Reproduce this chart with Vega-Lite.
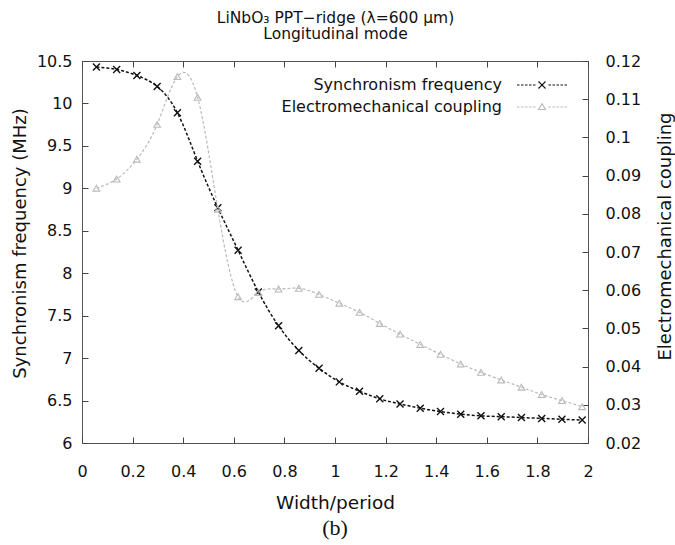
{
  "$schema": "https://vega.github.io/schema/vega-lite/v6.json",
  "width": 506,
  "height": 382,
  "autosize": "none",
  "padding": {"left": 82, "top": 61, "right": 87, "bottom": 102},
  "title": {"text": "(b)", "orient": "bottom", "frame": "group", "offset": 6, "font": "Liberation Serif", "fontSize": 22, "fontWeight": "normal", "color": "#111", "anchor": "middle"},
  "config": {
    "view": {"stroke": "#555", "strokeWidth": 1},
    "font": "DejaVu Sans",
    "axis": {
      "grid": false, "domain": false, "tickSize": 6, "offset": -6, "tickColor": "#444", "tickWidth": 1,
      "labelFont": "DejaVu Sans", "labelFontSize": 16, "labelColor": "#111",
      "titleFont": "DejaVu Sans", "titleFontSize": 18, "titleFontWeight": "normal", "titleColor": "#111"
    },
    "legend": {
      "orient": "none", "legendX": 452, "legendY": 16, "title": null,
      "symbolType": "stroke", "symbolSize": 100, "symbolStrokeWidth": 1.2,
      "labelAlign": "right", "labelOffset": -48, "labelFontSize": 16, "labelFont": "DejaVu Sans", "labelColor": "#111",
      "rowPadding": 6, "padding": 0, "labelLimit": 400
    }
  },
  "data": {"values": [
    {"w": 0.057, "freq": 10.43, "coup": 0.0867},
    {"w": 0.137, "freq": 10.40, "coup": 0.0891},
    {"w": 0.217, "freq": 10.33, "coup": 0.0943},
    {"w": 0.297, "freq": 10.20, "coup": 0.1034},
    {"w": 0.377, "freq": 9.89, "coup": 0.1159},
    {"w": 0.457, "freq": 9.32, "coup": 0.1105},
    {"w": 0.537, "freq": 8.77, "coup": 0.0812},
    {"w": 0.617, "freq": 8.27, "coup": 0.0583},
    {"w": 0.697, "freq": 7.78, "coup": 0.0594},
    {"w": 0.777, "freq": 7.38, "coup": 0.0603},
    {"w": 0.857, "freq": 7.09, "coup": 0.0605},
    {"w": 0.937, "freq": 6.88, "coup": 0.0589},
    {"w": 1.017, "freq": 6.72, "coup": 0.0566},
    {"w": 1.097, "freq": 6.61, "coup": 0.0542},
    {"w": 1.177, "freq": 6.52, "coup": 0.0513},
    {"w": 1.257, "freq": 6.46, "coup": 0.0485},
    {"w": 1.337, "freq": 6.41, "coup": 0.0458},
    {"w": 1.417, "freq": 6.37, "coup": 0.0432},
    {"w": 1.497, "freq": 6.34, "coup": 0.0407},
    {"w": 1.577, "freq": 6.32, "coup": 0.0385},
    {"w": 1.657, "freq": 6.31, "coup": 0.0365},
    {"w": 1.737, "freq": 6.30, "coup": 0.0346},
    {"w": 1.817, "freq": 6.29, "coup": 0.0327},
    {"w": 1.897, "freq": 6.28, "coup": 0.0311},
    {"w": 1.977, "freq": 6.27, "coup": 0.0295}
  ]},
  "layer": [
    {
      "mark": {"type": "line", "interpolate": "natural", "strokeDash": [3, 2], "strokeWidth": 1.5},
      "encoding": {
        "x": {"field": "w", "type": "quantitative", "scale": {"domain": [0, 2], "nice": false},
              "axis": {"orient": "bottom", "values": [0, 0.2, 0.4, 0.6, 0.8, 1, 1.2, 1.4, 1.6, 1.8, 2], "format": "~g", "labelPadding": 20, "labelFlush": false,
                       "title": "Width/period", "titleX": 253, "titleY": 65, "titleBaseline": "middle", "titleAlign": "center", "titleFontSize": 18.5}},
        "y": {"field": "freq", "type": "quantitative", "scale": {"domain": [6, 10.5], "nice": false, "zero": false},
              "axis": {"orient": "left", "values": [6, 6.5, 7, 7.5, 8, 8.5, 9, 9.5, 10, 10.5], "format": "~g", "labelPadding": 10, "labelFlush": false,
                       "title": "Synchronism frequency (MHz)", "titleX": -68, "titleY": 182, "titleBaseline": "middle", "titleAlign": "center", "titleAngle": 270}},
        "color": {"datum": "Synchronism frequency",
                  "scale": {"domain": ["Synchronism frequency", "Electromechanical coupling"], "range": ["#111111", "#bababa"]},
                  "legend": {
                    "encode": {"symbols": {"update": {
                      "shape": {"signal": "datum.value === 'Synchronism frequency' ? 'M-5,0H-4.5M-4.2,0H-3.7M-3.4,0H-2.9M-2.6,0H-2.1M-1.8,0H-1.3M-0.7,-0.7L0.7,0.7M-0.7,0.7L0.7,-0.7M1.3,0H1.8M2.1,0H2.6M2.9,0H3.4M3.7,0H4.2M4.5,0H5' : 'M-5,0H-4.5M-4.2,0H-3.7M-3.4,0H-2.9M-2.6,0H-2.1M-1.8,0H-1.3M0,-0.65L0.7,0.5L-0.7,0.5ZM1.3,0H1.8M2.1,0H2.6M2.9,0H3.4M3.7,0H4.2M4.5,0H5'"},
                      "strokeDash": {"value": [1, 0]}
                    }}}
                  }}
      }
    },
    {
      "mark": {"type": "point", "shape": "M-1,-1L1,1M-1,1L1,-1", "size": 49, "filled": false, "stroke": "#111111", "strokeWidth": 1.4, "opacity": 1},
      "encoding": {
        "x": {"field": "w", "type": "quantitative", "scale": {"domain": [0, 2], "nice": false},
              "axis": {"orient": "top", "values": [0, 0.2, 0.4, 0.6, 0.8, 1, 1.2, 1.4, 1.6, 1.8, 2], "labels": false,
                       "title": ["LiNbO₃ PPT−ridge (λ=600 μm)", "Longitudinal mode"], "titleX": 253, "titleY": -57, "titleBaseline": "top", "titleAlign": "center",
                       "titleFontSize": 15.5, "titleLineHeight": 16.5}},
        "y": {"field": "freq", "type": "quantitative", "scale": {"domain": [6, 10.5], "nice": false, "zero": false}, "axis": null}
      }
    },
    {
      "mark": {"type": "line", "interpolate": "natural", "strokeDash": [3, 2], "strokeWidth": 1.2},
      "encoding": {
        "x": {"field": "w", "type": "quantitative", "scale": {"domain": [0, 2], "nice": false}, "axis": null},
        "y": {"field": "coup", "type": "quantitative", "scale": {"domain": [0.02, 0.12], "nice": false, "zero": false},
              "axis": {"orient": "right", "values": [0.02, 0.03, 0.04, 0.05, 0.06, 0.07, 0.08, 0.09, 0.1, 0.11, 0.12], "format": "~g", "labelPadding": 17, "labelFlush": false,
                       "title": "Electromechanical coupling", "titleX": 83, "titleY": 175, "titleBaseline": "middle", "titleAlign": "center", "titleAngle": 270}},
        "color": {"datum": "Electromechanical coupling"}
      }
    },
    {
      "mark": {"type": "point", "shape": "triangle-up", "size": 45, "filled": false, "stroke": "#bababa", "strokeWidth": 1.1, "opacity": 1},
      "encoding": {
        "x": {"field": "w", "type": "quantitative", "scale": {"domain": [0, 2], "nice": false}, "axis": null},
        "y": {"field": "coup", "type": "quantitative", "scale": {"domain": [0.02, 0.12], "nice": false, "zero": false}, "axis": null}
      }
    }
  ],
  "resolve": {"scale": {"y": "independent"}}
}
